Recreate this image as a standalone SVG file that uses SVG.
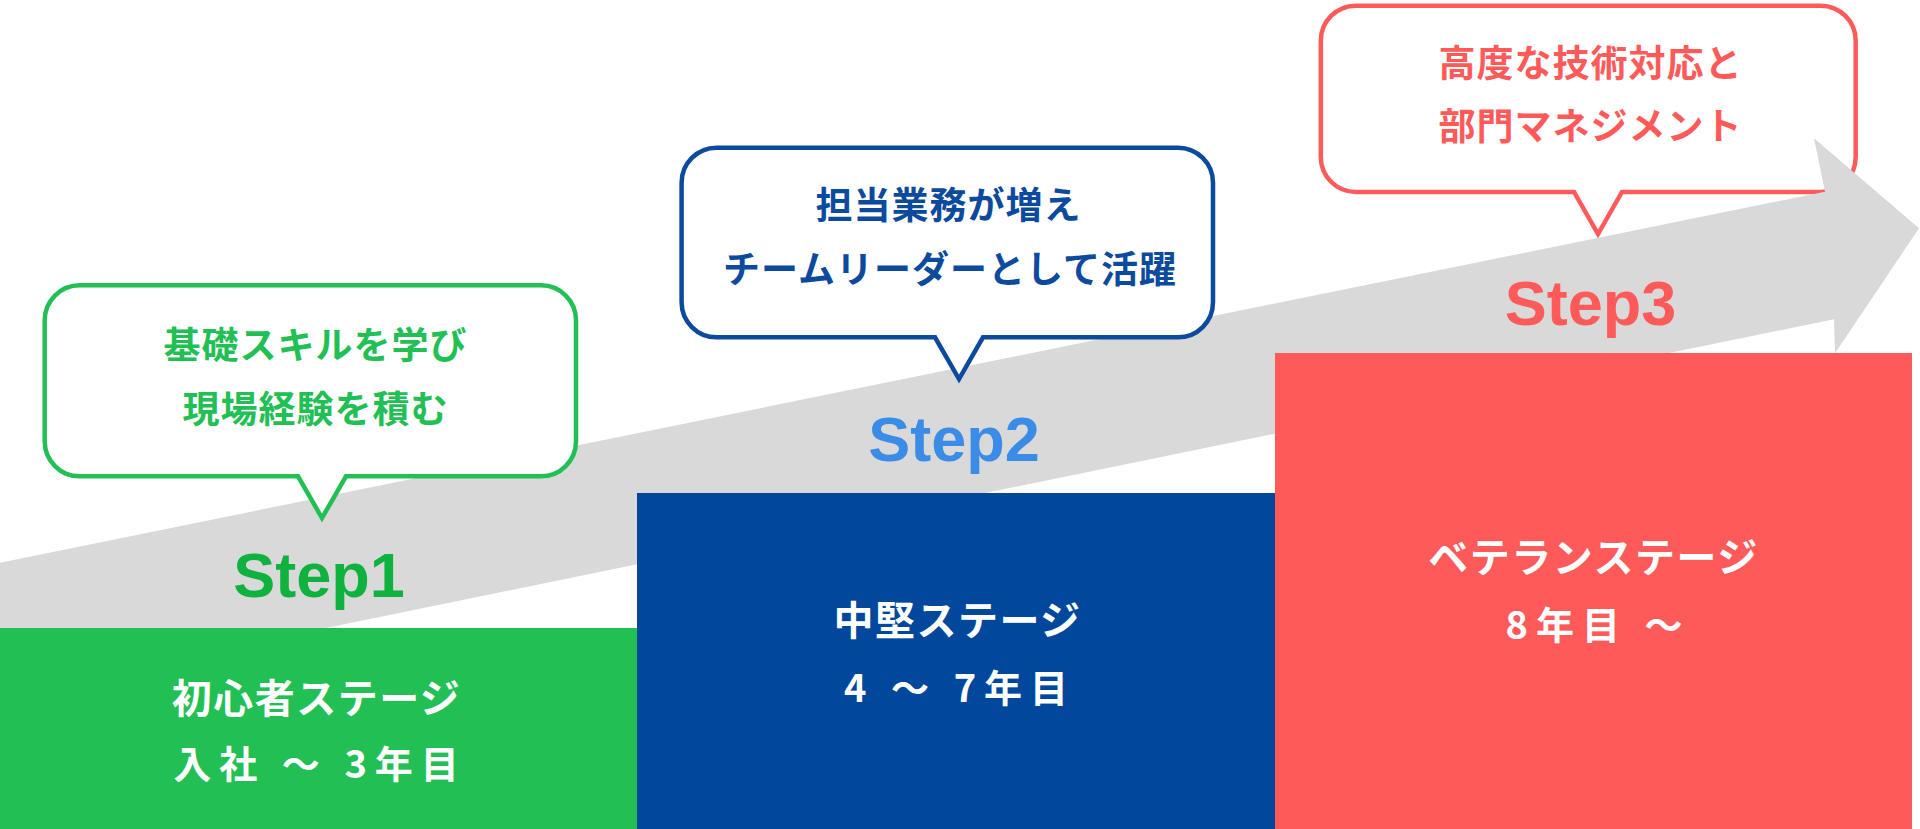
<svg xmlns="http://www.w3.org/2000/svg" width="1920" height="829" viewBox="0 0 1920 829">
<style>
.jp{font-family:"Noto Sans CJK JP","Noto Sans CJK SC",sans-serif;font-weight:700;text-anchor:middle}
.bub{font-size:37px;letter-spacing:1px}
.l1{font-size:40px;letter-spacing:1.5px;fill:#FFFFFF}
.l2{font-size:38px;letter-spacing:8px;fill:#FFFFFF}
.step{font-family:"Liberation Sans",Arial,sans-serif;font-weight:700;font-size:63px;text-anchor:middle}
.bubble{fill:#FFFFFF;stroke-width:4.5;stroke-linejoin:miter}
</style>
<rect width="1920" height="829" fill="#FFFFFF"/>

<g id="bubble3">
<path class="bubble" stroke="#FF5A5A" d="M1355.8,5.7 H1820.7 A35,35 0 0 1 1855.7,40.7 V157 A35,35 0 0 1 1820.7,192 H1622 L1598,234 L1574,192 H1355.8 A35,35 0 0 1 1320.8,157 V40.7 A35,35 0 0 1 1355.8,5.7 Z"/>
<text class="jp bub" fill="#FF5A5A" x="1590.5" y="77">高度な技術対応と</text>
<text class="jp bub" fill="#FF5A5A" x="1590.5" y="140">部門マネジメント</text>
</g>

<g id="connectors">
<polygon id="progress-arrow" fill="#D9D9D9" points="0,562.7 1825,191.7 1814,138.3 1919,228.3 1835,353.3 1834,319.3 0,694.7"/>
</g>

<g id="stage1">
<rect x="0" y="628" width="637" height="201" fill="#22BF55"/>
<text class="jp l1" x="316.5" y="713">初心者ステージ</text>
<text class="jp l2" x="320" y="778">入社 ～ 3年目</text>
<text class="step" fill="#10B23F" x="319" y="596.5">Step1</text>
</g>

<g id="stage2">
<rect x="637" y="493" width="638" height="336" fill="#01489C"/>
<text class="jp l1" x="957.5" y="635">中堅ステージ</text>
<text class="jp l2" x="960" y="702">4 ～ 7年目</text>
<text class="step" fill="#3B8CE6" x="954" y="461">Step2</text>
</g>

<g id="stage3">
<rect x="1275" y="353" width="637" height="476" fill="#FF5A5A"/>
<text class="jp l1" x="1593.5" y="572">ベテランステージ</text>
<text class="jp l2" x="1598" y="638.5">8年目 ～</text>
<text class="step" fill="#FF5A5A" x="1590.5" y="324.5">Step3</text>
</g>

<g id="bubble1">
<path class="bubble" stroke="#22BF55" d="M79.7,285.3 H541 A35,35 0 0 1 576,320.3 V441.3 A35,35 0 0 1 541,476.3 H346 L322,518 L298,476.3 H79.7 A35,35 0 0 1 44.7,441.3 V320.3 A35,35 0 0 1 79.7,285.3 Z"/>
<text class="jp bub" fill="#22BF55" x="315.5" y="359">基礎スキルを学び</text>
<text class="jp bub" fill="#22BF55" x="315.5" y="423">現場経験を積む</text>
</g>

<g id="bubble2">
<path class="bubble" stroke="#0B4A9C" d="M716.6,147.7 H1178 A35,35 0 0 1 1213,182.7 V302.3 A35,35 0 0 1 1178,337.3 H983 L959,379 L935,337.3 H716.6 A35,35 0 0 1 681.6,302.3 V182.7 A35,35 0 0 1 716.6,147.7 Z"/>
<text class="jp bub" fill="#0B4A9C" x="948.5" y="219">担当業務が増え</text>
<text class="jp bub" fill="#0B4A9C" x="950" y="283">チームリーダーとして活躍</text>
</g>
</svg>
